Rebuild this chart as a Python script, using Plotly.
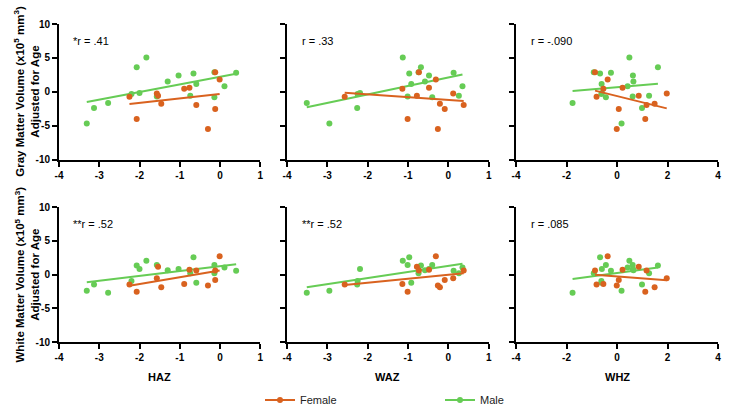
import numpy as np
import plotly.graph_objects as go

# ---------------- data ----------------
# Female subjects
female_haz = [-2.25, -2.07, -1.57, -1.54, -1.46, -0.89, -0.76, -0.59, -0.30, -0.12, -0.12, -0.01]
female_waz = [-2.57, -1.01, 0.12, -0.78, -0.21, -1.14, -0.48, 0.38, -0.26, -0.73, -0.09, -0.31]
female_whz = [-0.81, 1.12, 1.97, 0.86, 1.49, -0.54, 0.22, 1.17, -0.01, -0.87, 0.07, -0.37]
female_gm = [-0.74, -4.02, -0.25, -0.59, -1.76, 0.44, 0.59, -1.96, -5.49, 2.89, -2.55, 1.81]
female_wm = [-1.49, -2.54, -0.55, 1.14, -1.89, -1.39, 0.70, 0.60, -1.64, 0.60, -0.80, 2.69]

# Male subjects
male_haz = [-3.31, -3.13, -2.78, -2.20, -2.07, -2.00, -1.83, -1.57, -1.30, -1.03, -0.74, -0.66, -0.59, -0.14, -0.14, 0.11, 0.40]
male_waz = [-2.95, -2.26, -3.51, -2.25, -0.68, -2.19, -1.13, -1.01, -0.58, -0.48, 0.26, -0.97, -0.92, -0.74, -0.40, 0.35, 0.13]
male_whz = [0.18, 0.99, -1.76, -0.62, 1.62, -0.60, 0.49, 0.62, 0.65, 0.63, 1.27, -0.67, -0.61, -0.92, -0.44, 0.42, -0.24]
male_gm = [-4.70, -2.40, -1.67, -0.34, 3.63, -0.20, 5.05, -0.69, 1.52, 2.40, -0.59, 2.70, 1.13, 2.89, -0.80, 0.83, 2.79]
male_wm = [-2.39, -1.49, -2.69, -0.95, 1.34, 0.82, 2.02, 1.42, 0.62, 0.80, 0.18, 2.54, -1.22, 0.18, 1.42, 1.04, 0.55]

predictors = ["HAZ", "WAZ", "WHZ"]
gm_r_labels = ["*r = .41", "r = .33", "r = -.090"]
wm_r_labels = ["**r = .52", "**r = .52", "r = .085"]
x_ranges = {"HAZ": [-4, 1], "WAZ": [-4, 1], "WHZ": [-4, 4]}
x_tickvals = {"HAZ": [-4, -3, -2, -1, 0, 1], "WAZ": [-4, -3, -2, -1, 0, 1], "WHZ": [-4, -2, 0, 2, 4]}
y_range = [-10, 10]
y_tickvals = [-10, -5, 0, 5, 10]
gm_title = "<b>Gray Matter Volume (x10<sup>5</sup> mm<sup>3</sup>)<br>Adjusted for Age</b>"
wm_title = "<b>White Matter Volume (x10<sup>5</sup> mm<sup>3</sup>)<br>Adjusted for Age</b>"

FEMALE_C = "#D9621F"
MALE_C = "#66CC55"
FONT = "Liberation Sans, Arial, sans-serif"

female_x = {"HAZ": female_haz, "WAZ": female_waz, "WHZ": female_whz}
male_x = {"HAZ": male_haz, "WAZ": male_waz, "WHZ": male_whz}

W, H = 743, 416
col_px = [(59, 260.3), (287, 488.7), (516, 718)]
row_px = [(24, 159.5), (207, 342)]

fig = go.Figure()


def fit_line(x, y):
    x = np.asarray(x, float)
    y = np.asarray(y, float)
    m, b = np.polyfit(x, y, 1)
    xs = np.array([x.min(), x.max()])
    return xs, m * xs + b


def labels(vals):
    return [f"<b>{v}</b>" for v in vals]


layout = {}
annotations = []
for r, (yvals_f, yvals_m, rlabels) in enumerate([(female_gm, male_gm, gm_r_labels),
                                                   (female_wm, male_wm, wm_r_labels)]):
    for c, pred in enumerate(predictors):
        idx = r * 3 + c + 1
        sfx = "" if idx == 1 else str(idx)
        xa = f"x{sfx}"
        ya = f"y{sfx}"
        for xs, ys, col in [(male_x[pred], yvals_m, MALE_C), (female_x[pred], yvals_f, FEMALE_C)]:
            fx, fy = fit_line(xs, ys)
            fig.add_trace(go.Scatter(x=fx, y=fy, mode="lines", line=dict(color=col, width=2),
                                     xaxis=xa, yaxis=ya, showlegend=False, hoverinfo="skip"))
            fig.add_trace(go.Scatter(x=xs, y=ys, mode="markers", marker=dict(color=col, size=6),
                                     xaxis=xa, yaxis=ya, showlegend=False, hoverinfo="skip"))
        x0, x1 = col_px[c]
        yt, yb = row_px[r]
        layout[f"xaxis{sfx}"] = dict(
            domain=[x0 / W, x1 / W], anchor=ya, range=x_ranges[pred],
            tickmode="array", tickvals=x_tickvals[pred], ticktext=labels(x_tickvals[pred]),
            showline=True, linecolor="black", linewidth=2, ticks="outside",
            ticklen=5, tickwidth=2, tickcolor="black", showgrid=False, zeroline=False,
            automargin=False,
            tickfont=dict(family=FONT, size=10, color="black"),
        )
        layout[f"yaxis{sfx}"] = dict(
            domain=[1 - yb / H, 1 - yt / H], anchor=xa, range=y_range,
            tickmode="array", tickvals=y_tickvals, ticktext=labels(y_tickvals),
            showline=True, linecolor="black", linewidth=2, ticks="outside",
            ticklen=5, tickwidth=2, tickcolor="black", showgrid=False, zeroline=False,
            showticklabels=(c == 0), automargin=False,
            tickfont=dict(family=FONT, size=10, color="black"),
        )
        annotations.append(dict(text=rlabels[c], xref=f"{xa} domain", yref=ya, x=0.062, y=7.5,
                                xanchor="left", yanchor="middle", showarrow=False,
                                font=dict(family=FONT, size=11, color="black")))
        if r == 1:
            annotations.append(dict(text=f"<b>{pred}</b>", xref="paper", yref="paper",
                                    x=(x0 + x1) / 2 / W, y=1 - 377 / H, xanchor="center",
                                    yanchor="middle", showarrow=False,
                                    font=dict(family=FONT, size=11, color="black")))

for r, title in enumerate([gm_title, wm_title]):
    yt, yb = row_px[r]
    annotations.append(dict(text=title, xref="paper", yref="paper", x=27 / W,
                            y=1 - (yt + yb) / 2 / H, xanchor="center", yanchor="middle",
                            textangle=-90, showarrow=False,
                            font=dict(family=FONT, size=11.5, color="black")))

# legend entries
for name, col in [("Female", FEMALE_C), ("Male", MALE_C)]:
    fig.add_trace(go.Scatter(x=[None], y=[None], mode="lines+markers", name=name,
                             line=dict(color=col, width=2), marker=dict(color=col, size=6),
                             xaxis="x", yaxis="y"))

fig.update_layout(
    template="none",
    width=W, height=H, margin=dict(l=0, r=0, t=0, b=0, autoexpand=False),
    paper_bgcolor="white", plot_bgcolor="white",
    font=dict(family=FONT, color="black"),
    showlegend=True,
    legend=dict(orientation="h", x=260 / W, y=1 - 400 / H, xanchor="left", yanchor="middle",
                entrywidth=135, font=dict(family=FONT, size=11, color="#222"),
                bgcolor="rgba(0,0,0,0)", itemwidth=30),
    annotations=annotations,
    hovermode=False,
    **layout,
)

fig.write_html("out.html", config={"displayModeBar": False},
               post_script="document.body.style.margin='0px';document.body.style.padding='0px';")
